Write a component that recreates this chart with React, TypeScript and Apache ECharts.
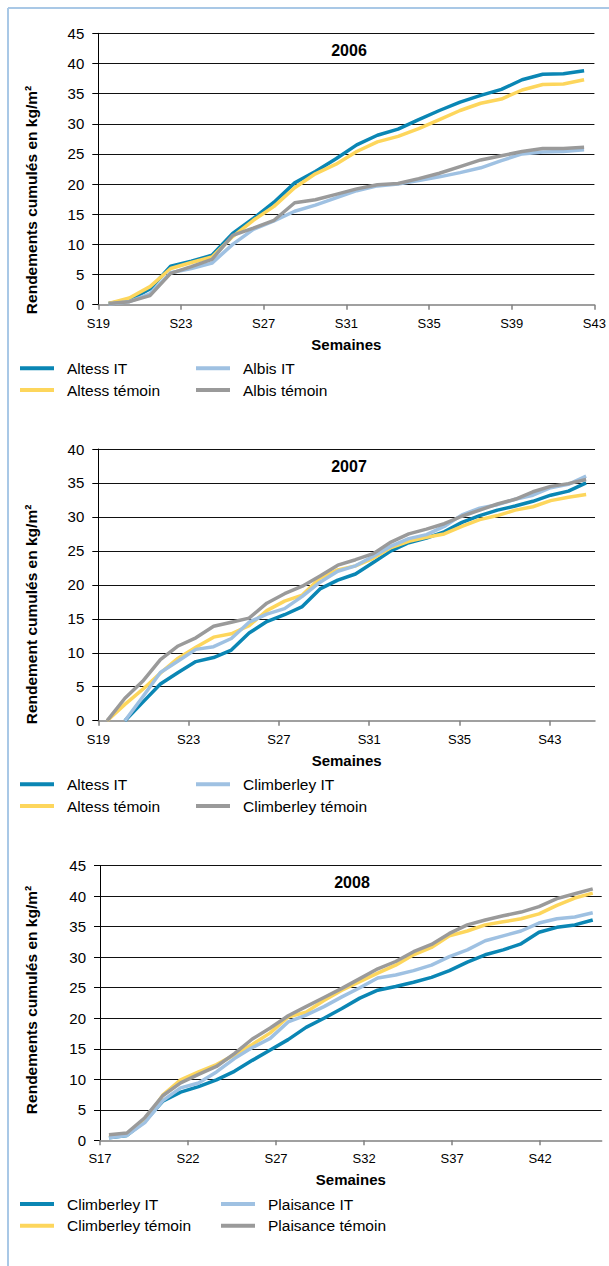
import React, { useEffect, useRef } from 'react';
import * as echarts from 'echarts';

// ---------- 2006 ----------
const weeks2006 = ['S19','S20','S21','S22','S23','S24','S25','S26','S27','S28','S29','S30','S31','S32','S33','S34','S35','S36','S37','S38','S39','S40','S41','S42'];
const altessIT2006 = [0.2, 0.8, 2.6, 6.4, 7.2, 8.2, 11.8, 14.3, 17.0, 20.2, 22.1, 24.2, 26.5, 28.1, 29.1, 30.7, 32.2, 33.6, 34.7, 35.7, 37.3, 38.2, 38.3, 38.8];
const altessTemoin2006 = [0.2, 1.1, 3.0, 6.0, 7.0, 7.9, 11.3, 14.0, 16.3, 19.4, 21.7, 23.3, 25.4, 27.0, 27.9, 29.2, 30.7, 32.2, 33.4, 34.1, 35.6, 36.5, 36.6, 37.3];
const albisIT2006 = [0.1, 0.5, 1.8, 5.3, 6.0, 6.9, 10.0, 12.5, 13.9, 15.5, 16.5, 17.7, 18.9, 19.7, 20.0, 20.6, 21.2, 21.9, 22.7, 23.9, 25.0, 25.3, 25.4, 25.7];
const albisTemoin2006 = [0.2, 0.5, 1.5, 5.2, 6.3, 7.5, 11.5, 12.7, 14.0, 16.9, 17.4, 18.3, 19.2, 19.9, 20.1, 20.9, 21.8, 22.9, 24.0, 24.7, 25.4, 25.9, 25.9, 26.1];
const ticks2006 = ['S19', 'S23', 'S27', 'S31', 'S35', 'S39', 'S43'];

// ---------- 2007 ----------
const releves2007 = ['1','2','3','4','5','6','7','8','9','10','11','12','13','14','15','16','17','18','19','20','21','22','23','24','25','26','27','28'];
const altessIT2007 = [null, 0, 2.7, 5.4, 7.1, 8.7, 9.3, 10.4, 12.9, 14.6, 15.6, 16.8, 19.4, 20.7, 21.6, 23.3, 25.0, 26.2, 26.9, 27.8, 29.2, 30.2, 31.0, 31.6, 32.3, 33.2, 33.8, 35.0];
const altessTemoin2007 = [0, 2.4, 4.6, 7.0, 9.2, 10.8, 12.3, 12.8, 14.0, 16.2, 17.6, 18.5, 21.0, 22.2, 22.8, 23.9, 25.5, 26.4, 27.0, 27.5, 28.6, 29.6, 30.2, 31.0, 31.5, 32.4, 32.9, 33.3];
const climberleyIT2007 = [null, 0, 3.5, 7.1, 8.8, 10.5, 10.9, 12.1, 14.5, 15.7, 16.5, 18.3, 20.4, 22.0, 22.8, 24.2, 25.7, 26.8, 27.4, 28.6, 30.3, 31.3, 31.8, 32.6, 33.2, 34.3, 34.8, 36.0];
const climberleyTemoin2007 = [0, 3.3, 5.8, 9.0, 11.0, 12.2, 13.9, 14.5, 15.1, 17.3, 18.7, 19.8, 21.3, 22.9, 23.7, 24.6, 26.3, 27.5, 28.2, 29.0, 30.1, 31.0, 31.9, 32.6, 33.7, 34.5, 34.9, 35.5];
const ticks2007 = ['S19', 'S23', 'S27', 'S31', 'S35', 'S43'];

// ---------- 2008 ----------
const releves2008 = ['1','2','3','4','5','6','7','8','9','10','11','12','13','14','15','16','17','18','19','20','21','22','23','24','25','26','27','28'];
const climberleyIT2008 = [0.4, 0.8, 3.1, 6.4, 7.9, 8.8, 9.9, 11.3, 13.1, 14.8, 16.5, 18.5, 20.0, 21.6, 23.3, 24.6, 25.2, 25.9, 26.7, 27.8, 29.2, 30.4, 31.2, 32.2, 34.1, 34.9, 35.3, 36.1];
const climberleyTemoin2008 = [0.6, 0.9, 3.2, 7.4, 9.9, 11.2, 12.4, 14.0, 15.7, 17.6, 20.2, 21.0, 22.9, 24.6, 26.0, 27.4, 28.7, 30.4, 31.6, 33.5, 34.3, 35.3, 35.8, 36.3, 37.1, 38.5, 39.7, 40.5];
const plaisanceIT2008 = [0.4, 0.8, 2.9, 6.5, 8.6, 9.4, 11.2, 13.4, 15.2, 16.7, 19.4, 20.5, 21.9, 23.5, 25.0, 26.6, 27.1, 27.8, 28.7, 30.1, 31.2, 32.7, 33.5, 34.3, 35.6, 36.3, 36.6, 37.3];
const plaisanceTemoin2008 = [0.9, 1.2, 3.7, 7.3, 9.4, 10.8, 12.1, 14.2, 16.6, 18.4, 20.4, 21.9, 23.4, 24.9, 26.5, 28.1, 29.3, 30.9, 32.1, 33.9, 35.3, 36.1, 36.8, 37.4, 38.3, 39.6, 40.4, 41.2];
const ticks2008 = ['S17', 'S22', 'S27', 'S32', 'S37', 'S42'];

const COLORS = { blue: '#0a86b4', yellow: '#fdd65c', light: '#9fc1e2', gray: '#9a9a9a' };
const FONT = 'Liberation Sans, Arial, sans-serif';
const NARROW = 'Liberation Sans Narrow, Liberation Sans, Arial, sans-serif';

const panels = [
  {
    year: '2006', cats: weeks2006, ticks: ticks2006, step: 4, span: 24, yMax: 45,
    yName: 'Rendements cumulés en kg/m²',
    series: [
      ['Altess IT', altessIT2006, COLORS.blue],
      ['Altess témoin', altessTemoin2006, COLORS.yellow],
      ['Albis IT', albisIT2006, COLORS.light],
      ['Albis témoin', albisTemoin2006, COLORS.gray],
    ],
    grid: { left: 98.3, top: 33.3, width: 496.4, height: 271.4 },
    titleX: 349, titleY: 50.7, nameY: 200, legendTop: 360.3, col2: 196,
  },
  {
    year: '2007', cats: releves2007, ticks: ticks2007, step: 4, span: 22, yMax: 40,
    yName: 'Rendement cumulés en kg/m²',
    series: [
      ['Altess IT', altessIT2007, COLORS.blue],
      ['Altess témoin', altessTemoin2007, COLORS.yellow],
      ['Climberley IT', climberleyIT2007, COLORS.light],
      ['Climberley témoin', climberleyTemoin2007, COLORS.gray],
    ],
    grid: { left: 98.3, top: 449, width: 496.7, height: 271.7 },
    titleX: 349, titleY: 466, nameY: 614.5, legendTop: 776.3, col2: 196,
  },
  {
    year: '2008', cats: releves2008, ticks: ticks2008, step: 5, span: 28.5, yMax: 45,
    yName: 'Rendements cumulés en kg/m²',
    series: [
      ['Climberley IT', climberleyIT2008, COLORS.blue],
      ['Climberley témoin', climberleyTemoin2008, COLORS.yellow],
      ['Plaisance IT', plaisanceIT2008, COLORS.light],
      ['Plaisance témoin', plaisanceTemoin2008, COLORS.gray],
    ],
    grid: { left: 100, top: 865.7, width: 501.7, height: 274.6 },
    titleX: 352, titleY: 882.3, nameY: 1000, legendTop: 1196, col2: 221,
  },
];

function buildOption() {
  const grid: any[] = [];
  const xAxis: any[] = [];
  const yAxis: any[] = [];
  const series: any[] = [];
  const legend: any[] = [];
  const graphic: any[] = [
    { type: 'line', shape: { x1: 8, y1: 8, x2: 8, y2: 1266 }, style: { stroke: '#a9c8e6', lineWidth: 2 } },
    { type: 'line', shape: { x1: 8, y1: 8, x2: 609, y2: 8 }, style: { stroke: '#a9c8e6', lineWidth: 2 } },
  ];

  panels.forEach((p, k) => {
    grid.push({ ...p.grid, containLabel: false });
    const catIdx = xAxis.length;
    xAxis.push({
      type: 'category', gridIndex: k, data: p.cats, boundaryGap: true, position: 'bottom',
      axisLine: { show: true, onZero: false, lineStyle: { color: '#808080', width: 1.5 } },
      axisTick: { show: false }, axisLabel: { show: false }, splitLine: { show: false },
    });
    const tickValues = p.ticks.map((_, i) => i * p.step);
    xAxis.push({
      type: 'value', gridIndex: k, min: 0, max: p.span, interval: p.step, position: 'bottom',
      axisLine: { show: false },
      axisTick: { show: true, length: 5, customValues: tickValues, lineStyle: { color: '#808080', width: 1.5 } },
      axisLabel: {
        customValues: tickValues, margin: 12, color: '#000', fontSize: 13, fontFamily: NARROW,
        showMinLabel: true, showMaxLabel: true,
        formatter: (v: number) => {
          const i = Math.round(v / p.step);
          return Math.abs(v - i * p.step) < 1e-6 && i < p.ticks.length ? p.ticks[i] : '';
        },
      },
      splitLine: { show: false },
      name: 'Semaines', nameLocation: 'middle', nameGap: 32,
      nameTextStyle: { color: '#000', fontSize: 15, fontWeight: 'bold', fontFamily: FONT },
    });
    yAxis.push({
      type: 'value', gridIndex: k, min: 0, max: p.yMax, interval: 5,
      axisLine: { show: true, onZero: false, lineStyle: { color: '#000', width: 1 } },
      axisTick: { show: true, inside: false, length: 6, lineStyle: { color: '#000', width: 1 } },
      axisLabel: { color: '#000', fontSize: 15, fontFamily: FONT, margin: 14 },
      splitLine: { show: true, showMinLine: false, lineStyle: { color: '#111', width: 1 } },
    });
    p.series.forEach(([name, data, color]: any) => {
      series.push({
        type: 'line', name, xAxisIndex: catIdx, yAxisIndex: k, data,
        symbol: 'none', showSymbol: false, connectNulls: false,
        lineStyle: { color, width: 3.5, cap: 'butt', join: 'round' },
        itemStyle: { color },
      });
    });
    const mkLegend = (left: number, items: any[]) => ({
      orient: 'vertical', left, top: p.legendTop, padding: 0, itemGap: 5.7,
      itemWidth: 34, itemHeight: 4, icon: 'rect', selectedMode: false,
      data: items.map(([name, , color]: any) => ({ name, icon: 'rect', itemStyle: { color } })),
      textStyle: { color: '#000', fontSize: 15.5, fontFamily: FONT, lineHeight: 16, padding: [0, 0, 0, 8] },
    });
    legend.push(mkLegend(20, [p.series[0], p.series[1]]));
    legend.push(mkLegend(p.col2, [p.series[2], p.series[3]]));

    graphic.push({
      type: 'text', x: p.titleX, y: p.titleY,
      style: { text: p.year, fill: '#000', font: `bold 16px ${FONT}`, textAlign: 'center', textVerticalAlign: 'middle' },
    });
    graphic.push({
      type: 'text', x: 31.5, y: p.nameY, rotation: Math.PI / 2,
      style: { text: p.yName, fill: '#000', font: `bold 15.5px ${FONT}`, textAlign: 'center', textVerticalAlign: 'middle' },
    });
  });

  return {
    animation: false,
    backgroundColor: '#ffffff',
    textStyle: { fontFamily: FONT },
    grid, xAxis, yAxis, series, legend, graphic,
  };
}

export default function App() {
  const ref = useRef<HTMLDivElement>(null);
  useEffect(() => {
    if (!ref.current) return;
    const chart = echarts.init(ref.current, undefined, { renderer: 'svg' });
    chart.setOption(buildOption() as any);
    return () => chart.dispose();
  }, []);
  return (
    <div
      ref={ref}
      style={{ position: 'absolute', left: 0, top: 0, width: 609, height: 1266, background: '#fff' }}
    />
  );
}
